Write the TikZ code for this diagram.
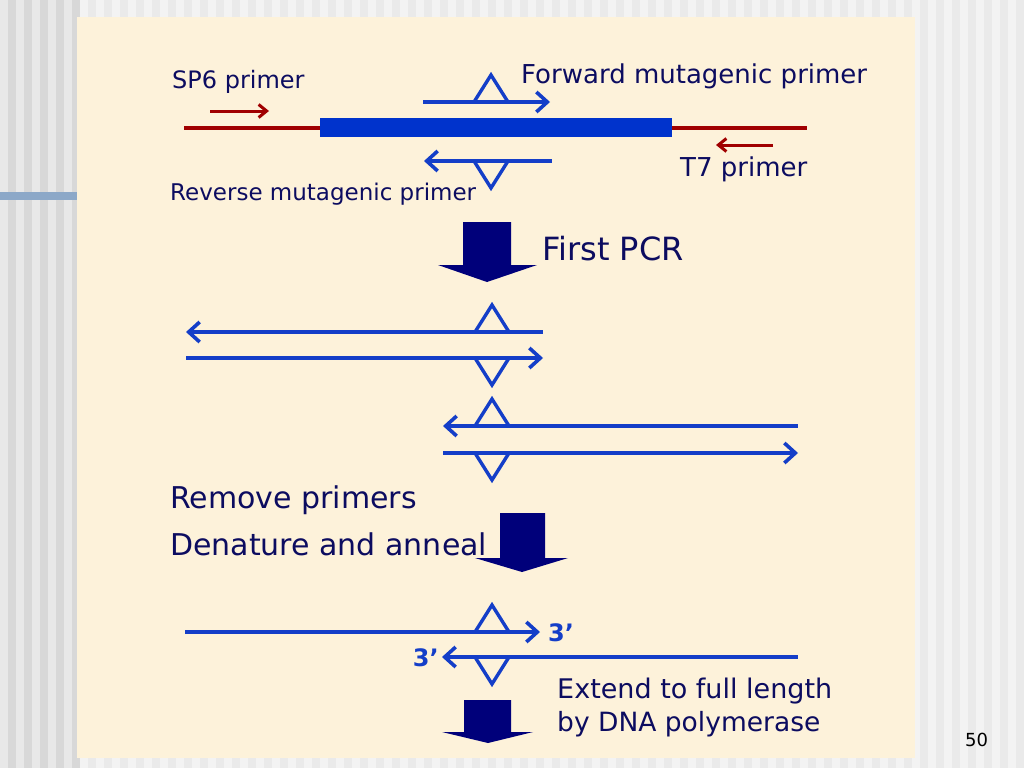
\documentclass[tikz,border=0pt]{standalone}
\usepackage{fontspec}
\setmainfont{DejaVu Sans}
\usetikzlibrary{arrows.meta}
\definecolor{panel}{RGB}{253,242,218}
\definecolor{stripeL}{RGB}{243,243,243}
\definecolor{stripeD}{RGB}{234,234,234}
\definecolor{leftL}{RGB}{232,232,232}
\definecolor{leftD}{RGB}{216,216,216}
\definecolor{barblue}{RGB}{140,168,200}
\definecolor{dnablue}{RGB}{20,62,200}
\definecolor{genebar}{RGB}{0,51,204}
\definecolor{primred}{RGB}{160,0,0}
\definecolor{navyarrow}{RGB}{0,0,122}
\definecolor{txt}{RGB}{12,12,96}
\tikzset{
  strand/.style={draw=dnablue, line width=3.6pt},
  fwd/.style={strand, -{Straight Barb[length=11pt,width=20pt]}},
  rev/.style={strand, {Straight Barb[length=11pt,width=20pt]}-},
  redline/.style={draw=primred, line width=4.5pt},
  redarrow/.style={draw=primred, line width=3pt, -{Straight Barb[length=8pt,width=13pt]}},
  tri/.style={draw=dnablue, line width=3.4pt, line join=miter},
  blockarrow/.style={fill=navyarrow},
  lab/.style={text=txt, inner sep=0pt, anchor=base west},
  uptri/.pic={\draw[tri] (-17,0) -- (0,-27) -- (17,0);},
  downtri/.pic={\draw[tri] (-17,0) -- (0,27) -- (17,0);}
}
\begin{document}
\begin{tikzpicture}[x=1pt,y=-1pt]
\useasboundingbox (0,0) rectangle (1024,768);
% background stripes
\fill[stripeL] (0,0) rectangle (1024,768);
\foreach \i in {0,...,63} {\fill[stripeD] (\i*16+8,0) rectangle ++(8,768);}
\fill[leftL] (0,0) rectangle (77,768);
\foreach \i in {0,...,4} {\fill[leftD] (\i*16+8,0) rectangle ++(8,768);}
\fill[barblue] (0,192) rectangle (77,200);
\fill[panel] (77,17) rectangle (915,758);

% --- template ---
\coordinate (rl1) at (184,128);
\coordinate (rl2) at (320,128);
\coordinate (rr1) at (672,128);
\coordinate (rr2) at (807,128);
\draw[redline] (rl1) -- (rl2);
\draw[redline] (rr1) -- (rr2);
\fill[genebar] (320,118) rectangle (672,137);

\coordinate (sp6a) at (210,111);
\coordinate (sp6b) at (269,111);
\draw[redarrow] (sp6a) -- (sp6b);
\coordinate (t7a) at (773,145);
\coordinate (t7b) at (716,145);
\draw[redarrow] (t7a) -- (t7b);

\coordinate (fpa) at (423,102);
\coordinate (fpb) at (550,102);
\draw[fwd] (fpa) -- (fpb);
\pic at (491,102) {uptri};
\coordinate (rpa) at (424,161);
\coordinate (rpb) at (552,161);
\draw[rev] (rpa) -- (rpb);
\pic at (491,161) {downtri};

\node[lab, font=\fontsize{24}{28}\selectfont] (sp6) at (172,88) {SP6 primer};
\node[lab, font=\fontsize{26}{30}\selectfont] (fwdl) at (521,83) {Forward mutagenic primer};
\node[lab, font=\fontsize{23}{28}\selectfont] (revl) at (170,200) {Reverse mutagenic primer};
\node[lab, font=\fontsize{26}{30}\selectfont] (t7) at (680,176) {T7 primer};

% first PCR arrow
\fill[blockarrow] (463,222) -- (511,222) -- (511,265) -- (537,265) -- (487,282) -- (438,265) -- (463,265) -- cycle;
\node[lab, font=\fontsize{32}{36}\selectfont] (pcr) at (542,260) {First PCR};

% products
\coordinate (a1) at (186,332); \coordinate (a2) at (543,332);
\draw[rev] (a1) -- (a2);
\pic at (492,332) {uptri};
\coordinate (b1) at (186,358); \coordinate (b2) at (543,358);
\draw[fwd] (b1) -- (b2);
\pic at (492,358) {downtri};
\coordinate (c1) at (443,426); \coordinate (c2) at (798,426);
\draw[rev] (c1) -- (c2);
\pic at (492,426) {uptri};
\coordinate (d1) at (443,453); \coordinate (d2) at (798,453);
\draw[fwd] (d1) -- (d2);
\pic at (492,453) {downtri};

\node[lab, font=\fontsize{30}{34}\selectfont] (rem) at (170,508) {Remove primers};
\node[lab, font=\fontsize{30}{34}\selectfont] (den) at (170,555) {Denature and anneal};
\fill[blockarrow] (500,513) -- (545,513) -- (545,558) -- (568,558) -- (522,572) -- (475,558) -- (500,558) -- cycle;

% annealed
\coordinate (e1) at (185,632); \coordinate (e2) at (540,632);
\draw[fwd] (e1) -- (e2);
\pic at (492,632) {uptri};
\coordinate (f1) at (442,657); \coordinate (f2) at (798,657);
\draw[rev] (f1) -- (f2);
\pic at (492,657) {downtri};
\node[text=dnablue, inner sep=0pt, anchor=base west, font=\fontsize{24}{28}\selectfont\bfseries] (p3a) at (548,641) {3’};
\node[text=dnablue, inner sep=0pt, anchor=base east, font=\fontsize{24}{28}\selectfont\bfseries] (p3b) at (439,666) {3’};

\node[lab, font=\fontsize{27}{31}\selectfont] (ext1) at (557,698) {Extend to full length};
\node[lab, font=\fontsize{26.5}{31}\selectfont] (ext2) at (557,731) {by DNA polymerase};
\fill[blockarrow] (464,700) -- (511,700) -- (511,732) -- (533,732) -- (488,743) -- (442,732) -- (464,732) -- cycle;

\node[inner sep=0pt, anchor=base west, text=black, font=\fontsize{18}{22}\selectfont] (pg) at (965,746) {50};
\end{tikzpicture}
\end{document}
